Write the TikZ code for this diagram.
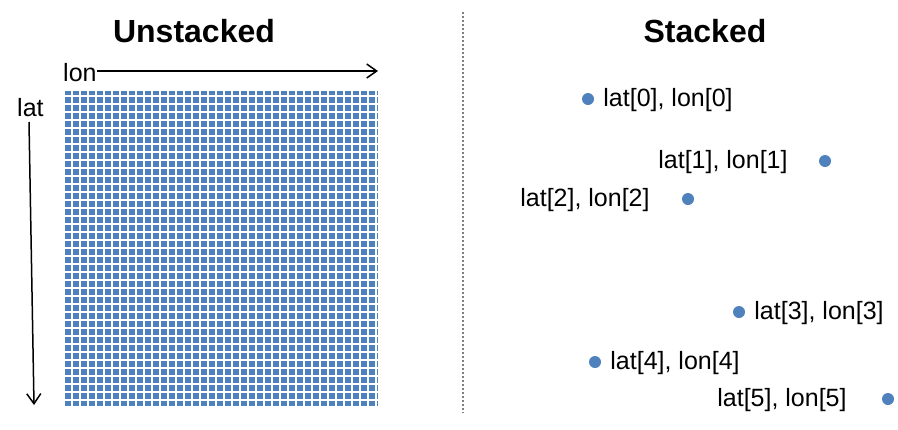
\documentclass[tikz,border=0pt]{standalone}
\usepackage{fontspec}
\setmainfont{Liberation Sans}
\usetikzlibrary{arrows.meta,positioning}
\definecolor{cellblue}{RGB}{79,129,189}
\definecolor{sepgray}{RGB}{128,128,128}
\begin{document}
\begin{tikzpicture}[x=1pt,y=-1pt,
		title/.style={font=\fontsize{32}{38}\selectfont\bfseries, anchor=base},
		lbl/.style={font=\fontsize{25}{30}\selectfont, inner sep=0pt},
		ptlbl/.style={lbl, yshift=-1.5pt},
		pt/.style={circle, fill=cellblue, inner sep=0pt, minimum size=12pt},
		axis/.style={line width=1.5pt, -{Straight Barb[length=10pt,width=14pt]}},
		gridline/.style={white, line width=1.2pt}]
	\useasboundingbox (0,0) rectangle (898,429);
	
	\node[title] (unst) at (194,42) {Unstacked};
	\node[title] (st) at (705,42) {Stacked};
	
	\draw[sepgray, line width=1.5pt, dash pattern=on 2pt off 2pt] (463,12) -- (463,413);
	
	% grid
	\fill[cellblue] (63,91) rectangle (378,406);
	\foreach \i in {0,...,39}
		\draw[gridline] ({64+8*\i},91) -- ({64+8*\i},406);
	\foreach \j in {0,...,38}
		\draw[gridline] (63,{96+8*\j}) -- (378,{96+8*\j});
	
	\node[lbl, anchor=base west] (lon) at (63,81) {lon};
	\node[lbl, anchor=base west] (lat) at (17,116) {lat};
	\coordinate (lonend) at (378,71);
	\coordinate (latend) at (34,405);
	\draw[axis] (lon.east |- lonend) -- (lonend);
	\draw[axis] (29,122) -- (latend);
	
	% points
	\node[pt] (p0) at (588,99) {};
	\node[pt] (p1) at (825,161) {};
	\node[pt] (p2) at (688,199) {};
	\node[pt] (p3) at (739,312) {};
	\node[pt] (p4) at (595,362) {};
	\node[pt] (p5) at (888,399) {};
	
	\node[ptlbl, right=9pt of p0] (t0) {lat[0], lon[0]};
	\node[ptlbl, left=31pt of p1] (t1) {lat[1], lon[1]};
	\node[ptlbl, left=32pt of p2] (t2) {lat[2], lon[2]};
	\node[ptlbl, right=9pt of p3] (t3) {lat[3], lon[3]};
	\node[ptlbl, right=9pt of p4] (t4) {lat[4], lon[4]};
	\node[ptlbl, left=35pt of p5] (t5) {lat[5], lon[5]};
\end{tikzpicture}
\end{document}
